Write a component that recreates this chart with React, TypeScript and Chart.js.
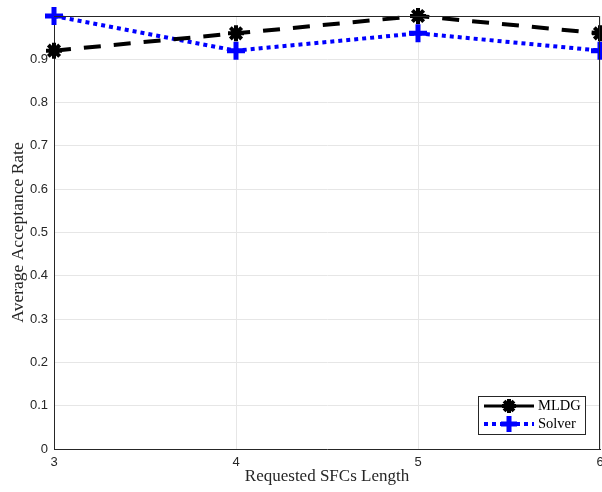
import React, { useEffect, useRef } from "react";
import { Chart, registerables } from "chart.js";

Chart.register(...registerables);

const categories = ["3", "4", "5", "6"];
const mldgValues = [0.92, 0.96, 1.0, 0.96];
const solverValues = [1.0, 0.92, 0.96, 0.92];
const seriesNames = ["MLDG", "Solver"];
const xTitle = "Requested SFCs Length";
const yTitle = "Average Acceptance Rate";

const frameAndLegend = {
  id: "frameAndLegend",
  afterDraw(chart: any) {
    const { ctx, chartArea } = chart;
    ctx.save();
    ctx.strokeStyle = "#262626";
    ctx.lineWidth = 1;
    ctx.beginPath();
    ctx.moveTo(chartArea.left, chartArea.top + 0.5);
    ctx.lineTo(chartArea.right - 0.5, chartArea.top + 0.5);
    ctx.lineTo(chartArea.right - 0.5, chartArea.bottom);
    ctx.stroke();
    // legend box
    const bx = 478.5, by = 396.5, bw = 107, bh = 38;
    ctx.fillStyle = "#ffffff";
    ctx.fillRect(bx, by, bw, bh);
    ctx.strokeStyle = "#262626";
    ctx.lineWidth = 1;
    ctx.strokeRect(bx, by, bw, bh);
    // MLDG entry
    const y1 = 406, y2 = 424;
    ctx.strokeStyle = "#000000";
    ctx.lineWidth = 3;
    ctx.setLineDash([]);
    ctx.beginPath();
    ctx.moveTo(484, y1);
    ctx.lineTo(534, y1);
    ctx.stroke();
    // star marker
    const cx = 509, r = 7;
    ctx.lineWidth = 4;
    ctx.beginPath();
    for (let i = 0; i < 4; i++) {
      const a = (Math.PI / 4) * i;
      ctx.moveTo(cx - r * Math.cos(a), y1 - r * Math.sin(a));
      ctx.lineTo(cx + r * Math.cos(a), y1 + r * Math.sin(a));
    }
    ctx.stroke();
    // Solver entry
    ctx.strokeStyle = "#0000ff";
    ctx.lineWidth = 4;
    ctx.setLineDash([4, 4]);
    ctx.beginPath();
    ctx.moveTo(484, y2);
    ctx.lineTo(534, y2);
    ctx.stroke();
    ctx.setLineDash([]);
    ctx.lineWidth = 5;
    ctx.beginPath();
    ctx.moveTo(cx - 8, y2);
    ctx.lineTo(cx + 8, y2);
    ctx.moveTo(cx, y2 - 8);
    ctx.lineTo(cx, y2 + 8);
    ctx.stroke();
    ctx.fillStyle = "#000000";
    ctx.font = "14.5px 'Liberation Serif'";
    ctx.textBaseline = "middle";
    ctx.textAlign = "left";
    ctx.fillText(seriesNames[0], 538, y1);
    ctx.fillText(seriesNames[1], 538, y2);
    ctx.restore();
  },
};

export default function App() {
  const ref = useRef<HTMLCanvasElement>(null);
  useEffect(() => {
    document.body.style.margin = "0";
    const chart = new Chart(ref.current!, {
      type: "line",
      data: {
        labels: categories,
        datasets: [
          {
            label: seriesNames[0],
            data: mldgValues,
            borderColor: "#000000",
            backgroundColor: "#000000",
            borderWidth: 4,
            borderDash: [17, 13],
            pointStyle: "star",
            pointRadius: 8,
            pointBorderWidth: 4,
            pointBorderColor: "#000000",
            tension: 0,
            clip: false as any,
          },
          {
            label: seriesNames[1],
            data: solverValues,
            borderColor: "#0000ff",
            backgroundColor: "#0000ff",
            borderWidth: 4,
            borderDash: [4, 4],
            pointStyle: "cross",
            pointRadius: 9,
            pointBorderWidth: 5,
            pointBorderColor: "#0000ff",
            tension: 0,
            clip: false as any,
          },
        ],
      },
      options: {
        animation: false,
        responsive: false,
        layout: { autoPadding: false, padding: { left: 0, right: 2, top: 16, bottom: 0 } },
        plugins: { legend: { display: false }, tooltip: { enabled: false } },
        scales: {
          x: {
            type: "category",
            offset: false,
            grid: { color: "#e6e6e6", drawTicks: false },
            border: { color: "#262626" },
            ticks: { color: "#262626", font: { family: "'Liberation Sans'", size: 13 }, padding: 6, maxRotation: 0 },
            title: { display: true, text: xTitle, color: "#262626", font: { family: "'Liberation Serif'", size: 17 }, padding: { top: 0, bottom: 5 } },
            afterFit(scale: any) {
              scale.height = 43;
              scale.paddingLeft = 0;
              scale.paddingRight = 0;
            },
          },
          y: {
            min: 0,
            max: 1,
            grid: { color: "#e6e6e6", drawTicks: false },
            border: { color: "#262626" },
            ticks: {
              stepSize: 0.1,
              color: "#262626",
              font: { family: "'Liberation Sans'", size: 13 },
              padding: 6,
              callback: (v: any) => (Math.abs(v - 1) < 1e-9 ? "" : String(Number(Number(v).toFixed(1)))),
            },
            title: { display: true, text: yTitle, color: "#262626", font: { family: "'Liberation Serif'", size: 17.5 }, padding: { top: 8, bottom: 0 } },
            afterFit(scale: any) {
              scale.width = 54;
              scale.paddingTop = 0;
              scale.paddingBottom = 0;
            },
          },
        },
      },
      plugins: [frameAndLegend],
    });
    return () => chart.destroy();
  }, []);
  return (
    <div style={{ position: "fixed", left: 0, top: 0, width: 602, height: 492, background: "#fff" }}>
      <canvas ref={ref} width={602} height={492} style={{ width: 602, height: 492 }} />
    </div>
  );
}
